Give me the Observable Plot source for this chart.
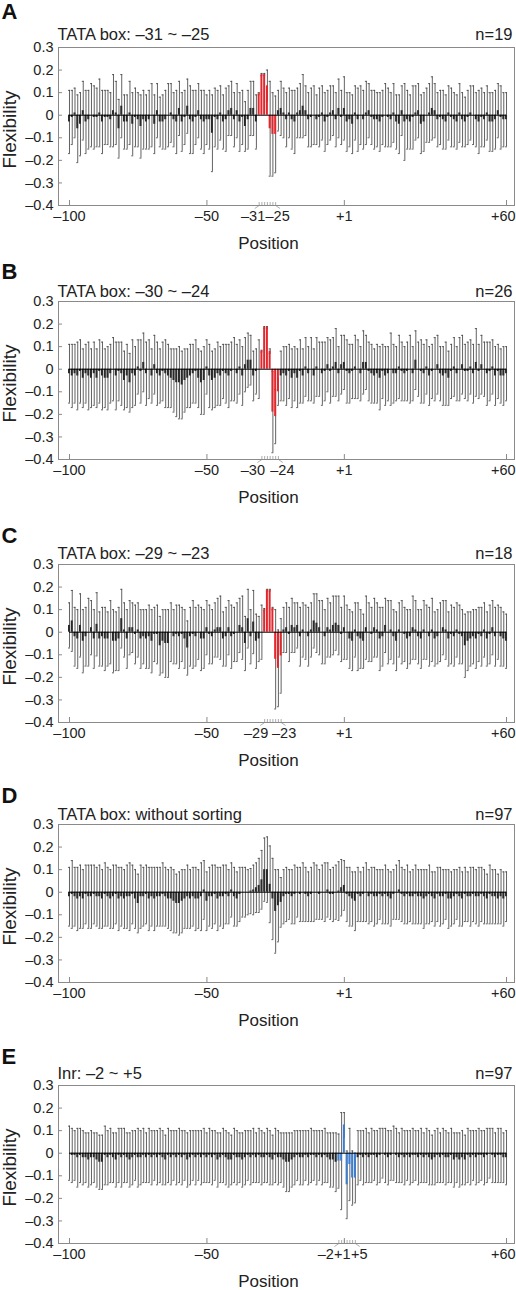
<!DOCTYPE html>
<html><head><meta charset="utf-8">
<script src="https://cdn.jsdelivr.net/npm/d3@7"></script>
<script src="https://cdn.jsdelivr.net/npm/@observablehq/plot@0.6"></script>
<style>
body{margin:0;background:#fff;}
#wrap{position:relative;width:516px;height:1290px;overflow:hidden;background:#fff;}
.panel{position:absolute;left:0;}
</style></head><body><div id="wrap"></div>
<script>
// ---------- data ----------
const positions = d3.range(-100, 0).concat(d3.range(1, 61)); // 160 positions, no 0
const yTicks = [0.3, 0.2, 0.1, 0, -0.1, -0.2, -0.3, -0.4];
const xTickPositions = [-100, -50, 1, 60];
const letters = ["A", "B", "C", "D", "E"];
const titles = ["TATA box: –31 ~ –25", "TATA box: –30 ~ –24", "TATA box: –29 ~ –23", "TATA box: without sorting", "Inr: –2 ~ +5"];
const counts = ["n=19", "n=26", "n=18", "n=97", "n=97"];
const boxes = [[-31, -25], [-30, -24], [-29, -23], null, [-2, 5]];
const boxLabelPositions = [[-31, -25], [-30, -24], [-29, -23], [], [-2, 1, 5]];

const meanA = [-.03,-.01,.01,-.06,-.04,.02,-.03,-.02,.00,-.01,
 -.01,.01,-.03,-.01,-.01,-.02,.02,.01,-.06,.04,
 -.03,-.03,.01,-.04,-.01,-.02,-.05,-.02,-.03,-.02,
 .00,-.04,.02,-.03,-.03,-.02,.00,.01,-.02,-.03,
 .03,-.03,-.01,.04,-.02,-.03,-.01,.02,-.02,-.03,
 -.02,-.02,-.08,-.01,-.02,.01,-.03,-.02,.02,.03,
 -.02,.02,-.03,-.01,-.05,-.02,.03,.03,-.03,.095,
 .18,.18,.13,-.06,-.085,-.085,.02,.03,.01,-.02,
 .01,-.02,-.03,.01,.02,.04,.02,-.02,-.01,.00,
 -.02,-.01,.01,-.03,-.01,.01,.02,-.02,.03,-.01,
 .03,-.03,-.02,-.04,.01,-.02,.00,-.02,.01,.02,
 -.01,-.02,-.02,-.03,-.01,.00,-.01,-.02,.01,-.03,
 -.04,.02,-.03,-.02,-.03,-.01,.01,.02,-.04,-.03,
 .00,.01,.03,.02,-.02,-.01,-.02,-.03,.01,-.01,
 -.02,-.03,.01,-.02,-.03,-.01,.01,.00,-.02,-.03,
 -.01,-.02,.01,-.03,-.03,-.02,.02,-.01,-.02,-.02];
const sdA = [.14,.12,.11,.15,.14,.13,.14,.13,.14,.14,
 .13,.15,.14,.12,.12,.12,.16,.14,.13,.14,
 .12,.12,.14,.14,.13,.12,.14,.13,.12,.13,
 .14,.13,.12,.11,.12,.13,.14,.13,.12,.14,
 .12,.13,.12,.12,.15,.14,.12,.12,.13,.14,
 .11,.13,.17,.13,.13,.12,.12,.14,.11,.12,
 .12,.12,.13,.12,.11,.13,.12,.12,.12,.005,
 .005,.005,.07,.21,.185,.17,.09,.12,.11,.12,
 .11,.13,.14,.11,.12,.14,.11,.12,.13,.13,
 .11,.13,.12,.13,.12,.12,.11,.12,.13,.12,
 .14,.13,.12,.13,.12,.14,.13,.13,.14,.12,
 .12,.13,.12,.13,.12,.14,.13,.12,.13,.12,
 .13,.11,.17,.13,.12,.14,.12,.12,.13,.13,
 .12,.13,.14,.12,.12,.12,.13,.12,.12,.13,
 .12,.12,.13,.12,.11,.12,.12,.13,.12,.14,
 .13,.12,.12,.13,.13,.13,.12,.14,.12,.12];

const meanB = [-.02,-.03,-.02,-.03,-.01,-.04,-.02,-.03,-.04,-.02,
 -.04,-.01,-.03,-.04,-.04,-.02,.00,-.03,-.01,-.02,
 -.05,-.03,-.06,-.02,-.03,.01,-.01,.03,-.02,.00,
 -.03,.02,-.02,-.03,-.01,-.02,-.03,-.04,-.05,-.06,
 -.06,-.07,-.05,-.04,-.03,-.02,-.01,-.04,-.06,-.05,
 .01,-.03,-.05,-.04,-.02,-.03,-.01,-.02,-.03,-.01,
 .00,-.02,.01,-.03,.02,.04,.04,-.03,-.01,.00,
 .08,.185,.185,.08,-.19,-.21,-.10,-.03,-.02,-.03,
 -.01,-.04,-.02,-.04,-.01,-.03,.01,-.02,.00,-.03,
 .01,.00,-.02,-.01,.02,-.01,.01,.03,-.02,.02,
 .03,-.01,-.02,-.01,.01,.00,-.02,.03,.03,-.01,
 -.02,-.03,-.02,-.04,-.01,-.03,-.02,.00,-.02,-.02,
 .01,-.01,-.02,-.01,.00,-.02,.04,.00,-.01,-.02,
 .01,-.03,-.01,.00,.02,-.02,-.03,-.02,-.04,-.01,
 .01,-.02,.00,.02,-.01,-.01,.01,-.02,.03,-.01,
 .02,.00,-.02,-.01,.01,-.03,-.01,-.03,-.03,-.02];
const sdB = [.13,.14,.13,.15,.14,.13,.13,.15,.13,.14,
 .13,.14,.15,.13,.14,.13,.14,.15,.13,.14,
 .13,.14,.13,.15,.13,.12,.14,.13,.14,.13,
 .12,.13,.14,.12,.13,.15,.14,.13,.14,.15,
 .16,.15,.14,.13,.14,.13,.14,.13,.14,.15,
 .12,.14,.13,.13,.14,.13,.12,.13,.14,.13,
 .14,.13,.12,.13,.12,.12,.11,.11,.10,.13,
 .004,.004,.004,.01,.18,.12,.06,.11,.12,.13,
 .12,.13,.12,.13,.14,.12,.13,.12,.14,.12,
 .13,.12,.14,.13,.12,.14,.13,.15,.12,.13,
 .12,.14,.13,.12,.14,.13,.12,.14,.12,.13,
 .13,.12,.13,.14,.12,.13,.12,.16,.13,.12,
 .14,.13,.12,.13,.15,.12,.13,.12,.14,.13,
 .12,.13,.12,.14,.13,.12,.13,.14,.12,.12,
 .13,.12,.14,.13,.12,.13,.12,.13,.15,.12,
 .13,.12,.14,.13,.12,.13,.12,.12,.13,.12];

const meanC = [.03,.05,-.02,-.03,.03,-.04,-.02,.00,.02,-.03,
 .035,-.03,-.02,-.03,-.03,.00,-.04,-.04,-.03,.06,
 .01,-.03,.02,.02,-.01,.01,-.03,-.02,-.03,-.02,
 -.04,-.01,-.01,-.06,-.04,-.05,-.05,.00,-.02,-.01,
 -.02,-.01,-.03,-.07,-.02,-.01,-.02,.00,-.03,-.03,
 .02,-.01,-.02,.01,.02,.02,-.03,-.02,.02,-.02,
 -.01,.00,.03,.02,-.05,.06,-.02,.045,-.04,-.03,
 .00,.10,.186,.186,.105,-.12,-.16,-.105,.01,.02,
 -.01,.03,.02,.03,-.02,.01,.00,-.02,.01,.05,
 .04,.02,.00,-.02,.02,.01,.03,.04,.03,-.01,
 .02,.00,-.03,-.04,.01,-.02,-.03,-.04,.02,.00,
 -.01,.02,.01,-.03,-.02,.03,.00,.01,-.02,-.04,
 .01,.00,-.01,-.03,-.02,.02,.01,-.02,-.03,.01,
 .00,-.02,.01,-.03,-.02,.00,.02,.01,-.03,-.01,
 -.02,.01,-.01,-.02,-.06,-.04,-.03,-.02,-.03,-.01,
 -.02,.01,-.03,-.01,.02,-.02,.00,-.02,-.03,-.04];
const sdC = [.10,.135,.13,.13,.14,.14,.13,.15,.12,.13,
 .14,.12,.13,.14,.12,.14,.14,.13,.14,.13,
 .12,.13,.12,.11,.13,.12,.13,.12,.13,.14,
 .14,.12,.13,.13,.14,.15,.15,.13,.12,.13,
 .14,.12,.13,.12,.13,.15,.13,.12,.14,.13,
 .12,.13,.12,.12,.13,.14,.12,.13,.12,.14,
 .12,.13,.12,.14,.12,.13,.12,.14,.12,.10,
 .12,.005,.004,.004,.005,.22,.17,.165,.10,.11,
 .12,.12,.11,.10,.13,.12,.12,.13,.12,.12,
 .13,.12,.14,.12,.13,.12,.13,.12,.13,.12,
 .14,.12,.13,.13,.12,.15,.13,.12,.14,.13,
 .12,.13,.12,.14,.13,.12,.14,.13,.12,.13,
 .12,.14,.12,.13,.12,.14,.13,.12,.13,.13,
 .12,.13,.14,.12,.12,.13,.12,.13,.12,.13,
 .13,.12,.13,.12,.14,.13,.12,.12,.13,.12,
 .13,.12,.12,.13,.12,.13,.12,.13,.12,.12];

const meanD = [-.02,-.01,-.02,-.03,-.02,-.03,-.01,-.02,-.02,-.01,
 -.02,-.02,-.03,-.01,-.02,-.03,-.02,-.01,-.03,-.02,
 -.03,-.02,-.02,-.01,-.03,-.05,-.02,-.02,-.01,-.03,
 -.02,-.03,-.02,-.02,-.01,-.02,-.03,-.03,-.04,-.05,
 -.05,-.04,-.03,-.02,-.03,-.02,-.03,-.03,-.02,.01,
 -.04,-.02,-.02,-.01,-.03,-.02,-.02,-.01,-.02,.01,
 -.02,-.03,-.01,.00,.00,.00,.005,.01,.02,.03,
 .055,.10,.10,.035,-.03,-.085,-.06,-.045,-.02,-.01,
 -.01,-.02,-.01,.00,-.01,.00,-.01,-.02,-.01,.00,
 .00,-.01,.00,.00,.01,-.01,-.01,.00,.005,.02,
 .03,-.01,-.02,-.03,-.04,-.01,-.02,-.01,.00,-.02,
 -.01,-.02,-.02,-.01,-.02,-.01,-.02,-.03,-.01,.00,
 .01,-.01,-.02,-.01,-.02,-.02,-.01,-.02,-.02,-.03,
 -.02,-.01,-.02,-.03,-.01,-.02,-.02,-.01,-.03,-.03,
 -.02,-.01,-.02,-.03,-.01,-.02,-.02,-.01,-.02,-.02,
 -.01,-.02,-.03,-.01,-.02,-.02,-.03,-.02,-.03,-.02];
const sdD = [.13,.15,.13,.14,.14,.13,.13,.14,.14,.13,
 .13,.14,.13,.14,.13,.13,.14,.13,.14,.13,
 .13,.14,.15,.13,.13,.13,.14,.13,.13,.14,
 .13,.14,.13,.13,.14,.13,.13,.14,.14,.13,
 .14,.14,.13,.14,.13,.13,.14,.13,.15,.13,
 .13,.13,.14,.13,.14,.13,.14,.13,.12,.12,
 .13,.12,.12,.11,.11,.10,.10,.11,.11,.12,
 .13,.14,.145,.17,.18,.185,.16,.11,.12,.12,
 .11,.12,.13,.11,.12,.13,.12,.11,.12,.13,
 .12,.11,.12,.13,.12,.11,.12,.12,.13,.125,
 .11,.12,.13,.12,.13,.12,.11,.12,.13,.12,
 .12,.13,.12,.11,.12,.13,.12,.12,.11,.12,
 .13,.12,.12,.13,.11,.12,.13,.12,.12,.13,
 .12,.13,.11,.12,.12,.13,.12,.11,.13,.12,
 .12,.11,.13,.12,.12,.11,.13,.12,.12,.13,
 .12,.12,.11,.13,.12,.12,.11,.12,.12,.11];

const meanE = [.00,-.01,-.01,-.02,-.01,-.02,-.02,-.03,-.02,-.02,
 -.03,-.04,-.04,-.01,-.02,-.01,-.02,-.03,-.01,-.02,
 -.01,-.02,-.03,-.02,-.01,-.02,-.02,-.01,-.02,-.01,
 -.02,-.01,-.02,-.01,-.02,-.03,-.01,-.02,-.01,-.02,
 -.01,-.02,-.01,-.03,-.02,-.01,-.02,-.01,-.02,-.01,
 -.02,-.01,-.02,-.01,-.03,-.02,-.01,-.02,-.03,-.03,
 -.01,-.02,-.02,-.03,-.02,-.01,-.02,-.01,-.02,-.01,
 -.02,-.02,-.01,-.02,-.03,-.01,-.02,-.02,-.03,-.04,
 -.04,-.03,-.02,-.01,-.02,-.02,-.01,-.02,-.01,-.01,
 -.02,-.01,-.02,-.01,-.02,-.03,-.03,-.04,-.035,-.035,
 .125,-.14,-.05,-.11,-.11,-.02,-.01,-.02,-.01,-.02,
 -.01,-.01,-.02,-.01,.00,-.01,-.02,-.01,.00,-.01,
 -.02,-.01,-.02,-.01,-.02,-.01,-.01,-.02,-.01,-.02,
 -.01,-.02,-.03,-.02,-.01,-.02,-.01,-.02,-.02,-.01,
 -.03,-.02,-.03,-.02,-.03,-.01,-.02,-.01,-.02,-.01,
 -.01,-.02,-.01,.00,-.01,-.02,-.01,-.01,-.02,-.02];
const sdE = [.12,.12,.11,.13,.12,.12,.11,.12,.12,.11,
 .12,.12,.12,.13,.12,.12,.11,.12,.12,.13,
 .12,.11,.12,.12,.11,.13,.12,.12,.11,.12,
 .12,.11,.12,.12,.12,.11,.12,.12,.11,.12,
 .12,.12,.11,.12,.12,.11,.12,.11,.12,.12,
 .11,.12,.12,.11,.12,.11,.12,.12,.12,.11,
 .12,.12,.11,.12,.12,.11,.12,.12,.11,.12,
 .12,.11,.12,.12,.11,.12,.12,.11,.12,.13,
 .13,.12,.12,.11,.12,.12,.11,.12,.12,.11,
 .12,.11,.12,.12,.11,.12,.12,.13,.12,.215,
 .055,.15,.16,.12,.11,.12,.11,.12,.12,.11,
 .12,.11,.12,.12,.11,.12,.12,.11,.12,.12,
 .11,.12,.12,.11,.12,.12,.11,.12,.12,.11,
 .12,.12,.11,.12,.12,.11,.12,.12,.11,.12,
 .12,.11,.12,.12,.11,.12,.12,.11,.12,.12,
 .11,.12,.12,.11,.12,.11,.12,.12,.11,.12];

const means = [meanA, meanB, meanC, meanD, meanE];
const sds = [sdA, sdB, sdC, sdD, sdE];

// ---------- styling / layout ----------
const hlColors = ["#e3262c", "#e3262c", "#e3262c", null, "#3b7dd0"];
const frameTops = [47, 301, 564, 824, 1085];
const letterDy = [-29, -23, -22, -22, -22];
const titleDy = [-8, -5, -6, -5, -7];
const boxLabelDx = [[-6, 2], [-9, 4], [-8.5, 3], [], [-13, -2, 4]];
const FONT = "'Liberation Sans', Arial, Helvetica, sans-serif";
const MT = 47, FH = 158, MB = 53, ML = 58, MR = 2;
const UNIT = FH / 0.7; // px per flexibility unit

const idx = p => p < 0 ? p + 100 : p + 99;
const fmtPos = p => p < 0 ? "–" + (-p) : "+" + p;
const fmtY = v => v === 0 ? "0" : (v < 0 ? "–" : "") + Math.abs(v).toFixed(1);

const wrap = document.getElementById("wrap");

letters.forEach((letter, k) => {
  const box = boxes[k];
  const data = positions.map((p, i) => ({
    i, p, m: means[k][i], s: sds[k][i],
    hl: box ? (p >= box[0] && p <= box[1]) : false
  }));
  const barColor = d => d.hl ? hlColors[k] : "#2a2a2a";
  const tickLen = 5 / UNIT, smallTick = 3 / UNIT;
  const stdLabels = xTickPositions.filter(p => !boxLabelPositions[k].includes(p));
  const lastPos = xTickPositions[xTickPositions.length - 1];
  const boxIdx = box ? positions.filter(p => p >= box[0] && p <= box[1]) : [];
  const boxLab = boxLabelPositions[k].map((p, j) => ({p, j}));

  const svg = Plot.plot({
    width: 516, height: MT + FH + MB,
    marginTop: MT, marginBottom: MB, marginLeft: ML, marginRight: MR,
    x: {domain: [-4, 161.9], axis: null},
    y: {domain: [-0.4, 0.3], axis: null},
    color: {type: "identity"},
    style: {fontFamily: FONT, background: "transparent", overflow: "visible"},
    marks: [
      // error bars (mean ± SD)
      Plot.ruleX(data, {x: "i", y1: d => d.m - d.s, y2: d => d.m + d.s, stroke: "#464646", strokeWidth: 0.85}),
      Plot.ruleY(data, {y: d => d.m + d.s, x1: d => d.i - 0.35, x2: d => d.i + 0.35, stroke: "#464646", strokeWidth: 0.85}),
      Plot.ruleY(data, {y: d => d.m - d.s, x1: d => d.i - 0.35, x2: d => d.i + 0.35, stroke: "#464646", strokeWidth: 0.85}),
      // mean bars
      Plot.rect(data, {x1: d => d.i - 0.36, x2: d => d.i + 0.36, y1: 0, y2: "m", fill: barColor}),
      // zero line
      Plot.ruleY([0], {x1: 0, x2: 159, stroke: "#000", strokeWidth: 1}),
      // frame
      Plot.frame({stroke: "#8a8a8a", strokeWidth: 1}),
      // y ticks (inside) + labels
      Plot.ruleY(yTicks, {y: d => d, x1: -4, x2: -4 + 4 / 2.748, stroke: "#8a8a8a"}),
      Plot.text(yTicks, {y: d => d, x: -4, text: fmtY, textAnchor: "end", dx: -5, fontSize: 14.5, fill: "#222"}),
      // x ticks (inside) + labels
      Plot.ruleX(xTickPositions, {x: idx, y1: -0.4, y2: -0.4 + tickLen, stroke: "#8a8a8a"}),
      Plot.text(stdLabels.filter(p => p !== lastPos), {x: idx, y: -0.4, text: fmtPos, dy: 15, lineAnchor: "bottom", fontSize: 14.5, fill: "#222"}),
      Plot.text([lastPos], {x: idx, y: -0.4, text: fmtPos, dy: 15, dx: 9, textAnchor: "end", lineAnchor: "bottom", fontSize: 14.5, fill: "#222"}),
      // element box ticks, leaders and labels
      Plot.ruleX(boxIdx, {x: idx, y1: -0.4, y2: -0.4 + smallTick, stroke: "#8a8a8a", strokeWidth: 0.7}),
      Plot.link(box ? [box] : [], {x1: d => idx(d[0]), y1: -0.4, x2: d => idx(d[0]) - 1.6, y2: -0.4 - smallTick, stroke: "#8a8a8a", strokeWidth: 0.7}),
      Plot.link(box ? [box] : [], {x1: d => idx(d[1]), y1: -0.4, x2: d => idx(d[1]) + 1.6, y2: -0.4 - smallTick, stroke: "#8a8a8a", strokeWidth: 0.7}),
      ...boxLab.map(b => Plot.text([b], {x: d => idx(d.p), y: -0.4, text: d => fmtPos(d.p), dy: 15, dx: boxLabelDx[k][b.j], lineAnchor: "bottom", fontSize: 14.5, fill: "#222"})),
      // titles
      Plot.text([letter], {frameAnchor: "top-left", text: d => d, dx: 1 - ML, dy: letterDy[k], textAnchor: "start", lineAnchor: "bottom", fontSize: 22, fontWeight: "bold", fill: "#111"}),
      Plot.text([titles[k]], {frameAnchor: "top-left", text: d => d, dx: -1, dy: titleDy[k], textAnchor: "start", lineAnchor: "bottom", fontSize: 16.5, fill: "#222"}),
      Plot.text([counts[k]], {frameAnchor: "top-right", text: d => d, dx: -2, dy: titleDy[k], textAnchor: "end", lineAnchor: "bottom", fontSize: 16.5, fill: "#222"}),
      Plot.text(["Position"], {frameAnchor: "bottom-left", text: d => d, dx: 268 - ML, dy: 43, textAnchor: "middle", lineAnchor: "bottom", fontSize: 17, fill: "#222"}),
      Plot.text(["Flexibility"], {frameAnchor: "left", text: d => d, dx: 15 - ML, dy: 3, rotate: -90, textAnchor: "middle", lineAnchor: "bottom", fontSize: 19, fill: "#222"})
    ]
  });
  const div = document.createElement("div");
  div.className = "panel";
  div.style.top = (frameTops[k] - MT) + "px";
  div.appendChild(svg);
  wrap.appendChild(div);
});
</script>
</body></html>
